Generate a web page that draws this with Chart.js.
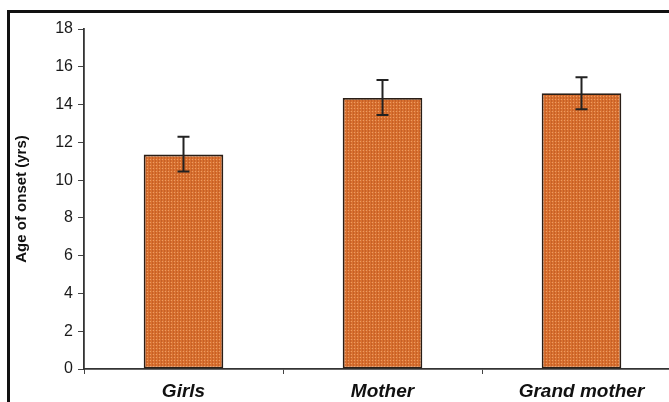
<!DOCTYPE html>
<html>
<head>
<meta charset="utf-8">
<script src="https://cdn.jsdelivr.net/npm/chart.js@4"></script>
<style>
  html, body { margin: 0; padding: 0; background: #fff; overflow: hidden; width: 669px; height: 402px; }
  #frame { position: absolute; left: 7px; top: 10px; width: 700px; height: 400px;
           border-left: 3px solid #111; border-top: 3px solid #111; }
  #c { position: absolute; left: 0; top: 0; }
</style>
</head>
<body>
<div id="frame"></div>
<canvas id="c" width="700" height="402"></canvas>
<script>
// data
const groups = ["Girls", "Mother", "Grand mother"];
const onsetAge = [11.35, 14.35, 14.6];
const errLow = [10.45, 13.45, 13.75];
const errHigh = [12.3, 15.3, 15.45];
const yTicks = [0, 2, 4, 6, 8, 10, 12, 14, 16, 18];

// dotted orange fill like the original
function makeFill() {
  const p = document.createElement("canvas");
  p.width = 3; p.height = 3;
  const g = p.getContext("2d");
  g.fillStyle = "#d8702f";
  g.fillRect(0, 0, 3, 3);
  g.fillStyle = "#eb9c64";
  g.fillRect(0, 0, 1, 1);
  g.fillStyle = "#c55f26";
  g.fillRect(2, 1, 1, 2);
  return g.createPattern(p, "repeat");
}

// whiskers drawn on top of the bars
const errorBars = {
  id: "errorBars",
  afterDatasetsDraw(chart) {
    const ctx = chart.ctx;
    const x = chart.scales.x, y = chart.scales.y;
    ctx.save();
    ctx.strokeStyle = "#222";
    ctx.lineWidth = 2;
    groups.forEach((g, i) => {
      const cx = x.getPixelForValue(i);
      const top = y.getPixelForValue(errHigh[i]);
      const bot = y.getPixelForValue(errLow[i]);
      ctx.beginPath();
      ctx.moveTo(cx, top); ctx.lineTo(cx, bot);
      ctx.moveTo(cx - 6, top); ctx.lineTo(cx + 6, top);
      ctx.moveTo(cx - 6, bot); ctx.lineTo(cx + 6, bot);
      ctx.stroke();
    });
    ctx.restore();
  }
};

new Chart(document.getElementById("c"), {
  type: "bar",
  data: {
    labels: groups,
    datasets: [{
      data: onsetAge,
      backgroundColor: makeFill(),
      borderColor: "#2a1e16",
      borderWidth: 1.8,
      borderSkipped: false,
      barPercentage: 0.4,
      categoryPercentage: 1.0
    }]
  },
  options: {
    responsive: false,
    animation: false,
    layout: { padding: { top: 29, right: 19, left: 0, bottom: 0 } },
    plugins: { legend: { display: false }, tooltip: { enabled: false } },
    scales: {
      x: {
        grid: { display: true, drawOnChartArea: false, offset: true, tickLength: 5, color: "#444" },
        border: { color: "#333", width: 1.8 },
        ticks: { color: "#111", padding: 6, font: { family: "Liberation Sans, Arial", size: 19, weight: "bold", style: "italic" } },
        afterFit(s) { s.height = 33; }
      },
      y: {
        min: 0, max: 18,
        afterBuildTicks(s) { s.ticks = yTicks.map(v => ({ value: v })); },
        grid: { display: true, drawOnChartArea: false, tickLength: 6, color: "#444" },
        border: { color: "#333", width: 1.8 },
        ticks: { color: "#1a1a1a", padding: 5, font: { family: "Liberation Sans, Arial", size: 16 } },
        title: {
          display: true, text: "Age of onset (yrs)", color: "#111",
          padding: { top: 13, bottom: 0 },
          font: { family: "Liberation Sans, Arial", size: 15, weight: "bold" }
        },
        afterFit(s) { s.width = 84; }
      }
    }
  },
  plugins: [errorBars]
});
</script>
</body>
</html>
